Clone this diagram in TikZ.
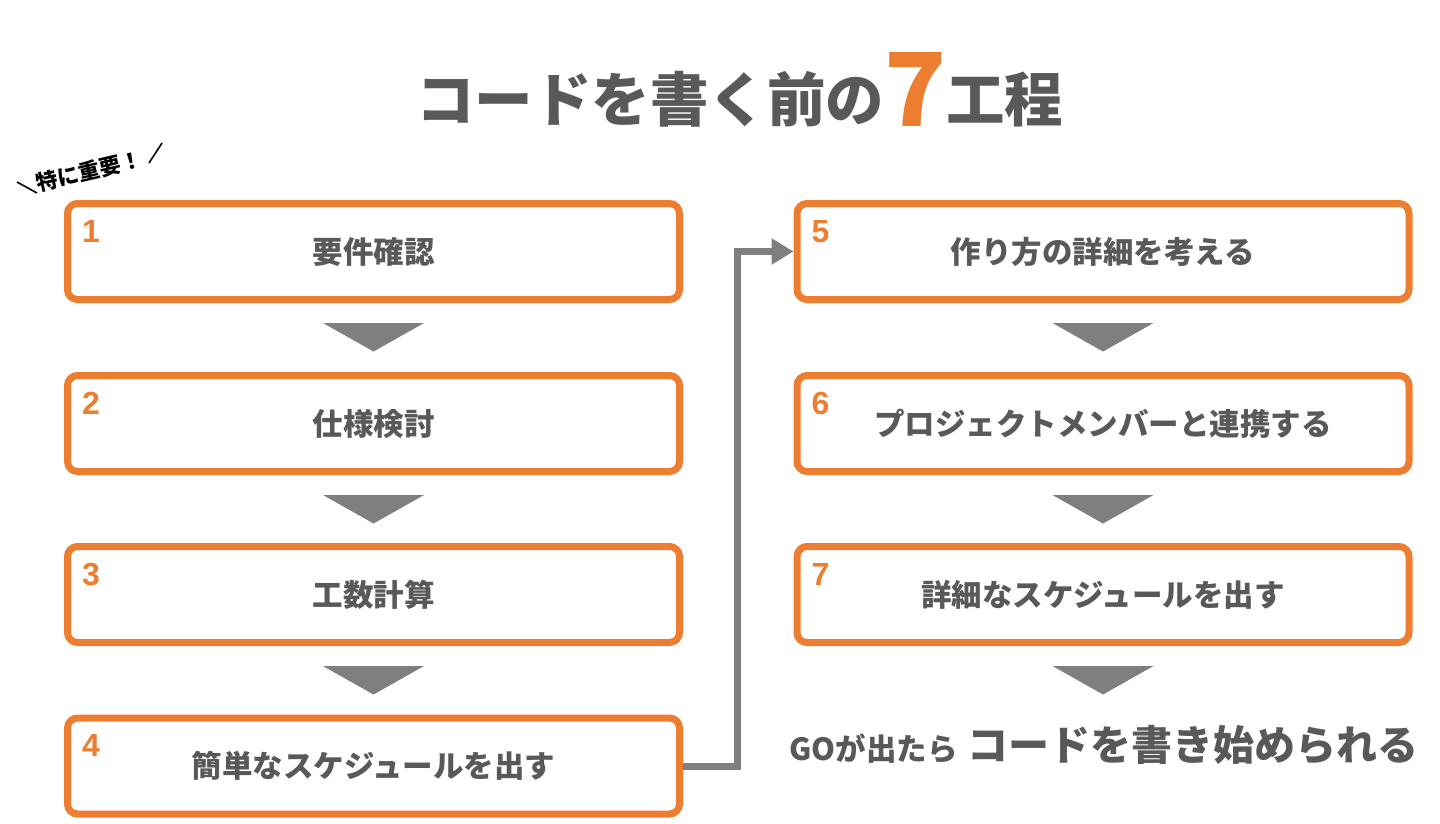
\documentclass[tikz,border=0pt]{standalone}
\usepackage{fontspec}
\setmainfont{Noto Sans CJK JP}
\newfontfamily\numfont{Liberation Sans}
\usetikzlibrary{arrows.meta,calc}
\definecolor{orng}{HTML}{ED7D31}
\definecolor{txtgray}{HTML}{595959}
\definecolor{arrgray}{HTML}{7F7F7F}
\tikzset{
  stepbox/.style={draw=orng,line width=7pt,rounded corners=10pt,fill=white,
    minimum width=612pt,minimum height=96pt,inner sep=0pt,outer sep=0pt,
    font=\bfseries\fontsize{30.5}{34}\selectfont,text=txtgray},
  stepnum/.style={anchor=base west,inner sep=0pt,text=orng,
    font=\numfont\bfseries\fontsize{32}{36}\selectfont},
  downtri/.style={fill=arrgray},
  conn/.style={draw=arrgray,line width=7pt,-{Triangle[length=22pt,width=25pt]}}
}
\begin{document}
\begin{tikzpicture}[x=1pt,y=-1pt]
\fill[white] (0,0) rectangle (1440,823);
\useasboundingbox (0,0) rectangle (1440,823);

% title
\node[anchor=base west,inner sep=0pt,text=txtgray,font=\bfseries] (title) at (416,121)
  {\fontsize{58.5}{64}\selectfont コードを書く前の\raisebox{-5pt}{\textcolor{orng}{\fontsize{102}{100}\selectfont 7}}工程};

% emphasis
\node[rotate=13,inner sep=0pt,font=\bfseries\fontsize{21.5}{24}\selectfont] (imp) at (89,171) {特に重要！};
\coordinate (sl1a) at (17,182); \coordinate (sl1b) at (37,193);
\coordinate (sl2a) at (149,163); \coordinate (sl2b) at (162,143);
\draw[line width=1.6pt] (sl1a) -- (sl1b);
\draw[line width=1.6pt] (sl2a) -- (sl2b);

% boxes
\node[stepbox] (b1) at (373.5,251.5) {要件確認};
\node[stepbox] (b2) at (373.5,423.5) {仕様検討};
\node[stepbox] (b3) at (373.5,594.5) {工数計算};
\node[stepbox] (b4) at (373.5,766) {簡単なスケジュールを出す};
\node[stepbox] (b5) at (1103,251.5) {作り方の詳細を考える};
\node[stepbox] (b6) at (1103,423.5) {プロジェクトメンバーと連携する};
\node[stepbox] (b7) at (1103,594.5) {詳細なスケジュールを出す};

\foreach \b/\n in {b1/1,b2/2,b3/3,b4/4,b5/5,b6/6,b7/7}{
  \node[stepnum] (n\b) at ($(\b.north west)+(14.5,38.5)$) {\n};
}

% down triangles
\foreach \b in {b1,b2,b3,b5,b6,b7}{
  \fill[downtri] ($(\b.south)+(-50.5,23.5)$) -- ($(\b.south)+(50.5,23.5)$) -- ($(\b.south)+(0,52)$) -- cycle;
}

% connector
\coordinate (cs) at ($(b4.east)+(3.5,0)$);
\coordinate (ce) at ($(b5.west)+(-3.5,0)$);
\coordinate (cx) at (737,0);
\draw[conn] (cs) -- (cs -| cx) |- (ce);

% final line
\node[anchor=base west,inner sep=0pt,text=txtgray,font=\bfseries] (go) at (789,760)
  {\fontsize{30.5}{34}\selectfont GOが出たら\hspace{10pt}\fontsize{41}{46}\selectfont コードを書き始められる};
\end{tikzpicture}
\end{document}
